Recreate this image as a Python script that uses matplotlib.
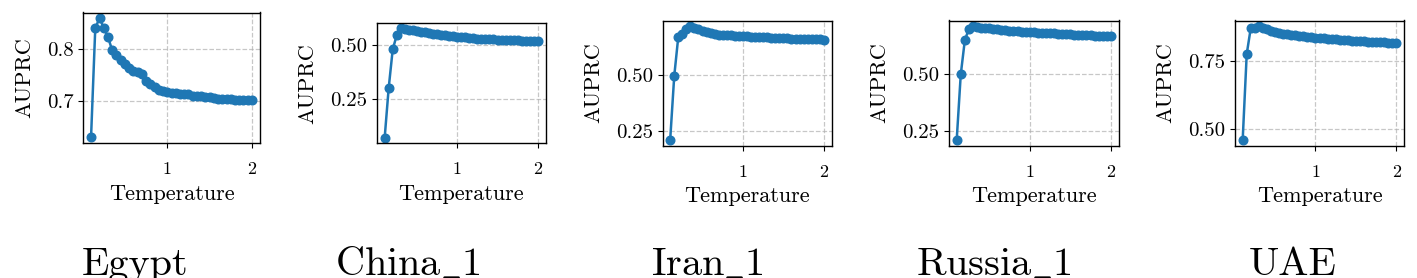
import numpy as np
import matplotlib
matplotlib.use("Agg")
import matplotlib.pyplot as plt

plt.rcParams['font.family'] = 'serif'
plt.rcParams['font.serif'] = ['cmr10', 'DejaVu Serif']
plt.rcParams['mathtext.fontset'] = 'cm'
plt.rcParams['axes.formatter.use_mathtext'] = True
plt.rcParams['axes.unicode_minus'] = False

# temperatures used in the sweep
temperature = [0.10, 0.15, 0.20, 0.25, 0.30, 0.35, 0.40, 0.45, 0.50, 0.55,
               0.60, 0.65, 0.70, 0.75, 0.80, 0.85, 0.90, 0.95, 1.00, 1.05,
               1.10, 1.15, 1.20, 1.25, 1.30, 1.35, 1.40, 1.45, 1.50, 1.55,
               1.60, 1.65, 1.70, 1.75, 1.80, 1.85, 1.90, 1.95, 2.00]

auprc_egypt = [0.630, 0.840, 0.858, 0.840, 0.822, 0.797, 0.788, 0.778, 0.770, 0.763,
               0.758, 0.755, 0.751, 0.738, 0.732, 0.726, 0.721, 0.719, 0.717, 0.715,
               0.715, 0.714, 0.714, 0.713, 0.710, 0.709, 0.709, 0.708, 0.708, 0.706,
               0.704, 0.703, 0.703, 0.703, 0.702, 0.702, 0.701, 0.701, 0.701]

auprc_china = [0.068, 0.301, 0.481, 0.548, 0.579, 0.576, 0.573, 0.570, 0.567, 0.564,
               0.561, 0.558, 0.555, 0.552, 0.549, 0.547, 0.545, 0.543, 0.541, 0.539,
               0.537, 0.535, 0.534, 0.532, 0.531, 0.530, 0.529, 0.528, 0.527, 0.526,
               0.525, 0.524, 0.523, 0.523, 0.522, 0.521, 0.521, 0.520, 0.519]

auprc_iran = [0.211, 0.494, 0.668, 0.683, 0.702, 0.716, 0.708, 0.702, 0.696, 0.690,
              0.686, 0.681, 0.679, 0.677, 0.675, 0.675, 0.674, 0.673, 0.672, 0.671,
              0.670, 0.669, 0.668, 0.667, 0.666, 0.665, 0.664, 0.663, 0.662, 0.662,
              0.661, 0.660, 0.659, 0.659, 0.658, 0.658, 0.657, 0.657, 0.656]

auprc_russia = [0.213, 0.499, 0.648, 0.698, 0.710, 0.707, 0.704, 0.702, 0.700, 0.698,
                0.696, 0.694, 0.692, 0.690, 0.688, 0.687, 0.686, 0.685, 0.684, 0.683,
                0.682, 0.681, 0.680, 0.679, 0.678, 0.677, 0.676, 0.675, 0.674, 0.673,
                0.672, 0.671, 0.670, 0.670, 0.669, 0.668, 0.668, 0.667, 0.667]

auprc_uae = [0.460, 0.775, 0.870, 0.871, 0.877, 0.871, 0.865, 0.860, 0.855, 0.852,
             0.850, 0.848, 0.846, 0.844, 0.842, 0.840, 0.838, 0.836, 0.835, 0.833,
             0.832, 0.831, 0.830, 0.829, 0.827, 0.826, 0.825, 0.824, 0.823, 0.822,
             0.821, 0.820, 0.819, 0.819, 0.818, 0.818, 0.817, 0.817, 0.816]

# captions under each panel (mathtext so the underscore is a real rule)
names = ['Egypt', r'China$\_$1', r'Iran$\_$1', r'Russia$\_$1', 'UAE']
series = [auprc_egypt, auprc_china, auprc_iran, auprc_russia, auprc_uae]
yticks = [[0.7, 0.8], [0.25, 0.50], [0.25, 0.50], [0.25, 0.50], [0.50, 0.75]]
ytick_labels = [['0.7', '0.8'], ['0.25', '0.50'], ['0.25', '0.50'],
                ['0.25', '0.50'], ['0.50', '0.75']]

W, H = 1417, 278
# axes boxes in pixels: left, right, top, bottom
boxes = [(83, 260, 12.5, 143.3),
         (377, 545.5, 23, 143.3),
         (662.5, 831.5, 20.5, 145.5),
         (949, 1118.5, 20.5, 145.5),
         (1235, 1404, 20.5, 145.5)]
caption_x = [135, 408, 707, 994, 1293]

fig = plt.figure(figsize=(W / 100, H / 100), dpi=100)

for name, vals, yt, ytl, box, cx in zip(names, series, yticks, ytick_labels,
                                        boxes, caption_x):
    l, r, t, b = box
    ax = fig.add_axes([l / W, 1 - b / H, (r - l) / W, (b - t) / H])
    ax.plot(temperature, vals, marker='o', color='#1f77b4',
            linewidth=1.8, markersize=6.2)
    ax.set_xticks([1, 2])
    ax.set_xticklabels(['1', '2'])
    ax.set_yticks(yt)
    ax.set_yticklabels(ytl)
    ax.tick_params(axis='x', labelsize=13, pad=10)
    ax.tick_params(axis='y', labelsize=15)
    ax.set_xlabel('Temperature', fontsize=16, labelpad=5)
    ax.set_ylabel('AUPRC', fontsize=16, labelpad=9)
    ax.grid(True, linestyle='--', color='#b0b0b0', alpha=0.7, linewidth=0.9)
    for s in ax.spines.values():
        s.set_linewidth(1.0)
    fig.text(cx / W, 3 / H, name, fontsize=29, ha='center', va='baseline')

fig.savefig('out.png', dpi=100)
